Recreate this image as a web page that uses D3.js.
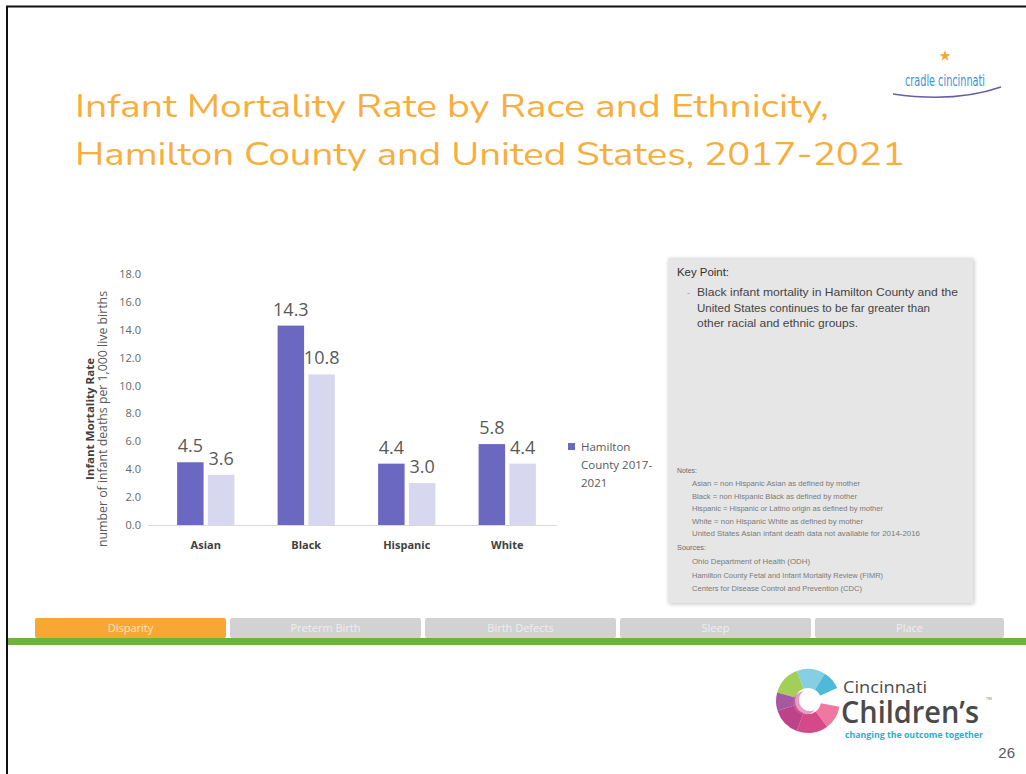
<!DOCTYPE html>
<html><head><meta charset="utf-8">
<script src="https://cdn.jsdelivr.net/npm/d3@7/dist/d3.min.js"></script>
<style>html,body{margin:0;padding:0;background:#fff;}svg{display:block;}</style>
</head><body>
<script>
// ---- data ----
const categories = ["Asian", "Black", "Hispanic", "White"];
const seriesNames = ["Hamilton County 2017-2021", "United States 2017-2021"];
const hamiltonValues = [4.5, 14.3, 4.4, 5.8];
const usValues = [3.6, 10.8, 3.0, 4.4];
const yTicks = [0, 2, 4, 6, 8, 10, 12, 14, 16, 18];
const titleLines = ["Infant Mortality Rate by Race and Ethnicity,", "Hamilton County and United States, 2017-2021"];
const keyPointLines = ["Black infant mortality in Hamilton County and the", "United States continues to be far greater than", "other racial and ethnic groups."];
const noteLines = ["Asian = non Hispanic Asian as defined by mother", "Black = non Hispanic Black as defined by mother", "Hispanic = Hispanic or Latino origin as defined by mother", "White = non Hispanic White as defined by mother", "United States Asian infant death data not available for 2014-2016"];
const sourceLines = ["Ohio Department of Health (ODH)", "Hamilton County Fetal and Infant Mortality Review (FIMR)", "Centers for Disease Control and Prevention (CDC)"];
const navTabs = ["Disparity", "Preterm Birth", "Birth Defects", "Sleep", "Place"];

const W = 1026, H = 774;
const svg = d3.select("body").append("svg").attr("width", W).attr("height", H);
svg.append("rect").attr("width", W).attr("height", H).attr("fill", "#fff");

function fit(sel, w) { sel.attr("textLength", w).attr("lengthAdjust", "spacingAndGlyphs"); return sel; }

// page border
svg.append("line").attr("x1", 6).attr("x2", W).attr("y1", 6.5).attr("y2", 6.5).attr("stroke", "#111").attr("stroke-width", 2);
svg.append("line").attr("x1", 7).attr("x2", 7).attr("y1", 6).attr("y2", H).attr("stroke", "#111").attr("stroke-width", 2);

// title
const titleFont = "'Nunito','Open Sans','Noto Sans',sans-serif";
[[titleLines[0], 117, 754], [titleLines[1], 165, 830]].forEach(([t, y, w]) => {
  fit(svg.append("text").attr("x", 75).attr("y", y).attr("font-family", titleFont)
    .attr("font-size", 33).attr("fill", "#f8ae3c").text(t), w);
});

// cradle cincinnati logo
const cl = svg.append("g");
const star = d3.symbol().type(d3.symbolStar).size(40);
cl.append("path").attr("d", star()).attr("transform", "translate(945,56)").attr("fill", "#f3a72e");
fit(cl.append("text").attr("x", 905).attr("y", 86).attr("font-family", "'Liberation Sans Narrow','DejaVu Sans Condensed',sans-serif")
  .attr("font-size", 16).attr("fill", "#3d8fd6").text("cradle cincinnati"), 80);
cl.append("path").attr("d", "M893,94 Q955,103 1001,87").attr("fill", "none").attr("stroke", "#6a5aa8").attr("stroke-width", 1.6);

// ---- chart ----
const font = "'Open Sans','Noto Sans',sans-serif";
const y = d3.scaleLinear().domain([0, 18]).range([525, 274]);
const x0 = d3.scaleBand().domain(categories).range([155, 558]).paddingInner(0.43).paddingOuter(0.22);
const x1 = d3.scaleBand().domain(seriesNames).range([0, x0.bandwidth()]).paddingInner(0.14);
const colors = d3.scaleOrdinal().domain(seriesNames).range(["#6b68c2", "#d7d7ef"]);

const yAxis = d3.axisLeft(y).tickValues(yTicks).tickFormat(d3.format(".1f")).tickSize(0).tickPadding(0);
const ya = svg.append("g").attr("transform", "translate(141,0)").call(yAxis);
ya.select(".domain").remove();
ya.selectAll("text").attr("font-family", font).attr("font-size", 11).attr("fill", "#666");

svg.append("line").attr("x1", 148).attr("x2", 557).attr("y1", y(0) + 0.5).attr("y2", y(0) + 0.5).attr("stroke", "#d9d9d9");

const rows = categories.map((c, i) => ({ cat: c, vals: [{ s: seriesNames[0], v: hamiltonValues[i] }, { s: seriesNames[1], v: usValues[i] }] }));
const grp = svg.selectAll("g.cat").data(rows).join("g").attr("class", "cat")
  .attr("transform", d => `translate(${x0(d.cat)},0)`);
grp.selectAll("rect").data(d => d.vals).join("rect")
  .attr("x", d => x1(d.s)).attr("width", x1.bandwidth())
  .attr("y", d => y(d.v)).attr("height", d => y(0) - y(d.v))
  .attr("fill", d => colors(d.s));
grp.selectAll("text.lbl").data(d => d.vals).join("text").attr("class", "lbl")
  .attr("x", d => x1(d.s) + x1.bandwidth() / 2).attr("y", d => y(d.v) - 10)
  .attr("text-anchor", "middle").attr("font-family", font).attr("font-size", 18).attr("fill", "#595959")
  .text(d => d3.format(".1f")(d.v));

const xAxis = d3.axisBottom(x0).tickSize(0).tickPadding(0);
const xa = svg.append("g").attr("transform", `translate(0,${y(0) + 16})`).call(xAxis);
xa.select(".domain").remove();
xa.selectAll("text").attr("font-family", font).attr("font-size", 11).attr("font-weight", "bold").attr("fill", "#404040").attr("dy", "0.71em");

// y axis title
const yt = svg.append("g").attr("transform", "translate(0,419) rotate(-90)");
fit(yt.append("text").attr("x", 0).attr("y", 94).attr("text-anchor", "middle").attr("font-family", font)
  .attr("font-size", 11).attr("font-weight", "bold").attr("fill", "#404040").text("Infant Mortality Rate"), 122);
fit(yt.append("text").attr("x", 0).attr("y", 107).attr("text-anchor", "middle").attr("font-family", font)
  .attr("font-size", 12).attr("fill", "#595959").text("number of infant deaths per 1,000 live births"), 256);

// legend (first entry visible)
svg.append("rect").attr("x", 568).attr("y", 443).attr("width", 7).attr("height", 7).attr("fill", colors(seriesNames[0]));
const lg = svg.append("text").attr("font-family", font).attr("font-size", 11.5).attr("fill", "#595959");
["Hamilton", "County 2017-", "2021"].forEach((t, i) => lg.append("tspan").attr("x", 581).attr("y", 451 + i * 18).text(t));

// ---- key point box ----
const defs = svg.append("defs");
const f = defs.append("filter").attr("id", "sh").attr("x", "-5%").attr("y", "-5%").attr("width", "110%").attr("height", "110%");
f.append("feGaussianBlur").attr("in", "SourceAlpha").attr("stdDeviation", 2);
f.append("feOffset").attr("dx", 1).attr("dy", 1);
f.append("feComponentTransfer").append("feFuncA").attr("type", "linear").attr("slope", 0.25);
const fm = f.append("feMerge"); fm.append("feMergeNode"); fm.append("feMergeNode").attr("in", "SourceGraphic");
svg.append("rect").attr("x", 668).attr("y", 258).attr("width", 305).attr("height", 345).attr("fill", "#e6e6e6").attr("filter", "url(#sh)");
const kfont = "'Liberation Sans','Open Sans',sans-serif";
fit(svg.append("text").attr("x", 677).attr("y", 276).attr("font-family", kfont).attr("font-size", 11).attr("fill", "#303030").text("Key Point:"), 52);
svg.append("text").attr("x", 687).attr("y", 296).attr("font-family", kfont).attr("font-size", 9).attr("fill", "#a0a0a0").text("-");
[261, 233, 161].forEach((w, i) => fit(svg.append("text").attr("x", 697).attr("y", 296 + i * 15.5).attr("font-family", kfont)
  .attr("font-size", 11).attr("fill", "#444").text(keyPointLines[i]), w));

const nfont = "'Liberation Sans','Open Sans',sans-serif";
fit(svg.append("text").attr("x", 677).attr("y", 473).attr("font-family", nfont).attr("font-size", 6.5).attr("fill", "#6a6a6a").text("Notes:"), 20);
[168, 165, 191, 171, 228].forEach((w, i) => fit(svg.append("text").attr("x", 692).attr("y", 486 + i * 12.6).attr("font-family", nfont)
  .attr("font-size", 6.5).attr("fill", "#7a7a7a").text(noteLines[i]), w));
fit(svg.append("text").attr("x", 677).attr("y", 550).attr("font-family", nfont).attr("font-size", 6.5).attr("fill", "#6a6a6a").text("Sources:"), 29);
[118, 191, 170].forEach((w, i) => fit(svg.append("text").attr("x", 692).attr("y", 564 + i * 13.5).attr("font-family", nfont)
  .attr("font-size", 6.5).attr("fill", "#7a7a7a").text(sourceLines[i]), w));

// ---- nav bar ----
const tabX = [35, 230, 425, 620, 815], tabW = [191, 191, 191, 191, 189];
navTabs.forEach((t, i) => {
  svg.append("rect").attr("x", tabX[i]).attr("y", 618).attr("width", tabW[i]).attr("height", 20).attr("rx", 2)
    .attr("fill", i === 0 ? "#f8a634" : "#d2d2d2");
  svg.append("text").attr("x", tabX[i] + tabW[i] / 2).attr("y", 632).attr("text-anchor", "middle")
    .attr("font-family", font).attr("font-size", 11).attr("fill", i === 0 ? "#fde7c8" : "#eeeeee").text(t);
});
svg.append("rect").attr("x", 8).attr("y", 638).attr("width", W - 8).attr("height", 7).attr("fill", "#6bb23f");

// ---- Cincinnati Children's logo ----
const lc = svg.append("g").attr("transform", "translate(808,701)");
const arc = d3.arc().innerRadius(13).outerRadius(32);
const segs = [
  [-1.3, -0.35, "#9bcb4a"], [-0.35, 0.55, "#7ccbe0"], [0.55, 1.15, "#3fb3d6"],
  [1.75, 2.5, "#ee6b98"], [2.5, 3.5, "#d23a7f"], [3.5, 4.4, "#b8327e"], [4.4, 4.98, "#a04a9a"]
];
segs.forEach(([a, b, c]) => lc.append("path").attr("d", arc({ startAngle: a, endAngle: b })).attr("fill", c).attr("opacity", 0.92));
lc.append("circle").attr("cx", -3).attr("cy", 2).attr("r", 12).attr("fill", "#d65d9b").attr("opacity", 0.6);
lc.append("circle").attr("cx", 2).attr("cy", -1).attr("r", 11).attr("fill", "#fff");
fit(svg.append("text").attr("x", 843).attr("y", 693).attr("font-family", font).attr("font-size", 15.5).attr("fill", "#4a4a4a").text("Cincinnati"), 84);
fit(svg.append("text").attr("x", 841).attr("y", 723).attr("font-family", font).attr("font-size", 30).attr("font-weight", 600).attr("fill", "#4a4a4a").text("Children\u2019s"), 138);
svg.append("text").attr("x", 986).attr("y", 700).attr("font-family", font).attr("font-size", 4).attr("fill", "#777").text("TM");
fit(svg.append("text").attr("x", 845).attr("y", 738).attr("font-family", font).attr("font-size", 8).attr("font-weight", "bold").attr("fill", "#22b5c9").text("changing the outcome together"), 138);

svg.append("text").attr("x", 1015).attr("y", 758).attr("text-anchor", "end").attr("font-family", "'Liberation Sans',sans-serif")
  .attr("font-size", 15).attr("fill", "#595959").text("26");
</script>
</body></html>
